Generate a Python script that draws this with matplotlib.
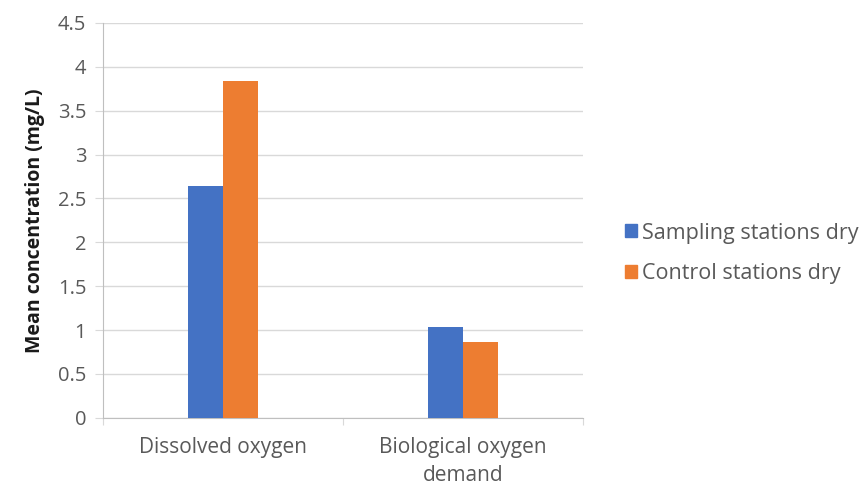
import numpy as np
import matplotlib.pyplot as plt
from matplotlib.patches import Patch

# --- Data ---
categories = ["Dissolved oxygen", "Biological oxygen\ndemand"]
series_names = ["Sampling stations dry", "Control stations dry"]
sampling_dry = [2.64, 1.04]
control_dry = [3.84, 0.86]
y_ticks = [0, 0.5, 1, 1.5, 2, 2.5, 3, 3.5, 4, 4.5]
y_tick_labels = ["0", "0.5", "1", "1.5", "2", "2.5", "3", "3.5", "4", "4.5"]

blue = "#4472C4"
orange = "#ED7D31"
text_gray = "#595959"
line_gray = "#D9D9D9"

plt.rcParams['font.family'] = ['Open Sans', 'DejaVu Sans']

fig = plt.figure(figsize=(8.65, 4.87), dpi=100)
ax = fig.add_axes([0.119, 0.142, 0.555, 0.811])

x = np.arange(len(categories))
w = 0.146
ax.bar(x - w / 2, sampling_dry, width=w, color=blue, zorder=3)
ax.bar(x + w / 2, control_dry, width=w, color=orange, zorder=3)

ax.set_xlim(-0.5, len(categories) - 0.5)
ax.set_ylim(0, 4.5)
ax.set_yticks(y_ticks)
ax.set_yticklabels(y_tick_labels)
ax.yaxis.grid(True, color=line_gray, linewidth=1, zorder=0)

# category ticks sit between the groups, labels at group centres
ax.set_xticks([-0.5, 0.5, 1.5])
ax.set_xticklabels([])
ax.set_xticks(x, minor=True)
ax.set_xticklabels(categories, minor=True, fontsize=15, color=text_gray,
                   linespacing=1.45)
ax.tick_params(axis='x', which='minor', length=0, pad=14)
ax.tick_params(axis='x', which='major', length=5, color=line_gray)
ax.tick_params(axis='y', length=6, color=line_gray, labelsize=14.5,
               labelcolor=text_gray, pad=6)

for side in ['top', 'right']:
    ax.spines[side].set_visible(False)
for side in ['left', 'bottom']:
    ax.spines[side].set_color("#BFBFBF")

ax.set_ylabel("Mean concentration (mg/L)", fontsize=14, fontweight='bold',
              color="#1a1a1a", labelpad=9)

handles = [Patch(color=blue), Patch(color=orange)]
fig.legend(handles, series_names, loc='center left', bbox_to_anchor=(0.7, 0.48),
           frameon=False, fontsize=15.5, labelcolor=text_gray,
           handlelength=0.55, handleheight=0.55, handletextpad=0.25,
           labelspacing=0.9)

fig.savefig("out.png", dpi=100)
